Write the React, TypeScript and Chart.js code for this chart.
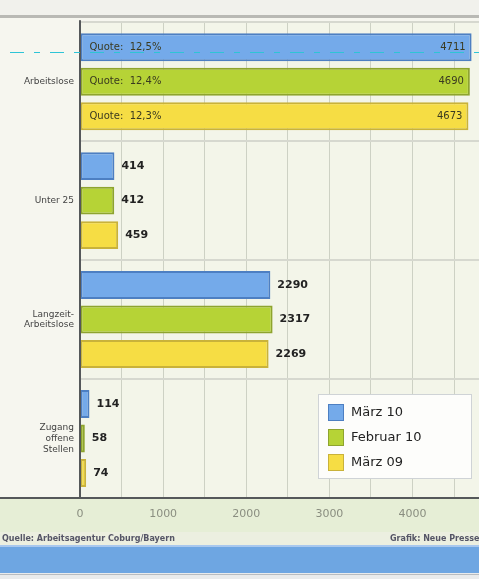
import React, { useEffect, useRef } from "react";
import { Chart, registerables } from "chart.js";

Chart.register(...registerables);

const categories: (string | string[])[] = [
  "Arbeitslose",
  "Unter 25",
  ["Langzeit-", "Arbeitslose"],
  ["Zugang", "offene", "Stellen"],
];
const seriesNames = ["März 10", "Februar 10", "März 09"];
const maerz10 = [4711, 414, 2290, 114];
const februar10 = [4690, 412, 2317, 58];
const maerz09 = [4673, 459, 2269, 74];
const quoten = ["12,5%", "12,4%", "12,3%"];
const xTickValues = [0, 1000, 2000, 3000, 4000];
const sourceLeft = "Quelle: Arbeitsagentur Coburg/Bayern";
const sourceRight = "Grafik: Neue Presse";

const fills = ["#74aaea", "#b6d336", "#f6dd44"];
const borders = ["#4d7fc2", "#8ea42e", "#c9b23a"];

const decorPlugin = {
  id: "decor",
  beforeDraw(chart: any) {
    const { ctx, chartArea: a, width, height } = chart;
    ctx.save();
    ctx.fillStyle = "#f6f6ef";
    ctx.fillRect(0, 0, width, height);
    // top strip
    ctx.fillStyle = "#f1f1ec";
    ctx.fillRect(0, 0, width, 15);
    ctx.fillStyle = "#b9b9b4";
    ctx.fillRect(0, 15, width, 3);
    // plot bg
    ctx.fillStyle = "#f3f5e9";
    ctx.fillRect(a.left, a.top, a.right - a.left, a.bottom - a.top);
    // tick band
    ctx.fillStyle = "#e6eed6";
    ctx.fillRect(0, a.bottom, width, 34);
    // footer band
    ctx.fillStyle = "#ecefe0";
    ctx.fillRect(0, a.bottom + 34, width, 13);
    ctx.fillStyle = "#6ea6e2";
    ctx.fillRect(0, a.bottom + 47, width, 28);
    ctx.fillStyle = "#a9c8ee";
    ctx.fillRect(0, a.bottom + 47, width, 2);
    ctx.fillStyle = "#e9ebec";
    ctx.fillRect(0, a.bottom + 75, width, height - a.bottom - 75);
    ctx.fillStyle = "#b8bcc0";
    ctx.fillRect(0, a.bottom + 76, width, 1);
    // footer text
    ctx.fillStyle = "#556";
    ctx.font = "bold 8px 'DejaVu Sans'";
    ctx.textBaseline = "middle";
    ctx.textAlign = "left";
    ctx.fillText(sourceLeft, 2, a.bottom + 41);
    ctx.fillText(sourceRight, 390, a.bottom + 41);
    ctx.restore();
  },
  afterDatasetsDraw(chart: any) {
    const { ctx, chartArea: a } = chart;
    ctx.save();
    ctx.textBaseline = "middle";
    chart.data.datasets.forEach((ds: any, di: number) => {
      const meta = chart.getDatasetMeta(di);
      meta.data.forEach((bar: any, i: number) => {
        const v = ds.data[i];
        if (i === 0) {
          ctx.font = "10px 'DejaVu Sans'";
          ctx.fillStyle = "#3a3a20";
          ctx.textAlign = "left";
          ctx.fillText("Quote:  " + quoten[di], bar.base + 9, bar.y);
          ctx.textAlign = "right";
          ctx.fillText(String(v), Math.min(bar.x, a.right) - 6, bar.y);
        } else {
          ctx.font = "bold 11px 'DejaVu Sans'";
          ctx.fillStyle = "#222";
          ctx.textAlign = "left";
          ctx.fillText(String(v), bar.x + 7, bar.y);
        }
      });
    });
    // axis lines
    ctx.fillStyle = "#55585a";
    ctx.fillRect(a.left - 1, a.top - 2, 2, a.bottom - a.top + 2);
    ctx.fillRect(0, a.bottom - 1, chart.width, 2);
    // dashed cyan line
    ctx.strokeStyle = "#2ec4d6";
    ctx.lineWidth = 1;
    ctx.setLineDash([14, 10, 6, 10]);
    ctx.beginPath();
    ctx.moveTo(10, 52.5);
    ctx.lineTo(chart.width, 52.5);
    ctx.stroke();
    ctx.setLineDash([]);
    // legend
    const lx = 318, ly = 394, lw = 153, lh = 84;
    ctx.fillStyle = "#fdfdfb";
    ctx.fillRect(lx, ly, lw, lh);
    ctx.strokeStyle = "#cfd3d6";
    ctx.strokeRect(lx + 0.5, ly + 0.5, lw, lh);
    chart.data.datasets.forEach((ds: any, di: number) => {
      const y = ly + 10 + di * 25;
      ctx.fillStyle = fills[di];
      ctx.fillRect(lx + 10, y, 16, 17);
      ctx.strokeStyle = borders[di];
      ctx.strokeRect(lx + 10.5, y + 0.5, 15, 16);
      ctx.fillStyle = "#222";
      ctx.font = "13px 'DejaVu Sans'";
      ctx.textAlign = "left";
      ctx.fillText(ds.label, lx + 33, y + 9);
    });
    ctx.restore();
  },
};

export default function App() {
  const ref = useRef<HTMLCanvasElement>(null);
  useEffect(() => {
    document.body.style.margin = "0";
    const data = [maerz10, februar10, maerz09];
    const chart = new Chart(ref.current as HTMLCanvasElement, {
      type: "bar",
      data: {
        labels: categories,
        datasets: seriesNames.map((n, i) => ({
          label: n,
          data: data[i],
          backgroundColor: fills[i],
          borderColor: borders[i],
          borderWidth: 2,
          borderSkipped: false,
          barPercentage: 0.81,
          categoryPercentage: 0.87,
        })),
      },
      options: {
        indexAxis: "y",
        animation: false,
        responsive: false,
        layout: { padding: { top: 21, right: 0, bottom: 47, left: 0 } },
        plugins: { legend: { display: false }, tooltip: { enabled: false } },
        scales: {
          x: {
            min: 0,
            max: 4800,
            afterFit: (s: any) => {
              s.height = 34;
            },
            afterBuildTicks: (s: any) => {
              const t: any[] = [];
              for (let v = 0; v <= 4500; v += 500) t.push({ value: v });
              s.ticks = t;
            },
            ticks: {
              autoSkip: false,
              callback: (v: any) => (xTickValues.includes(Number(v)) ? String(v) : ""),
              color: "#8a8e80",
              font: { size: 11, family: "'DejaVu Sans'" },
              padding: 10,
            },
            grid: { color: "#cdd1c4", lineWidth: 1, drawTicks: false },
            border: { display: false },
          },
          y: {
            afterFit: (s: any) => {
              s.width = 80;
            },
            ticks: {
              color: "#444",
              font: { size: 9, family: "'DejaVu Sans'" },
              padding: 6,
            },
            grid: { color: "#d6d8cf", lineWidth: 2, offset: true, drawTicks: false },
            border: { display: false },
          },
        },
      },
      plugins: [decorPlugin],
    } as any);
    return () => chart.destroy();
  }, []);
  return (
    <div style={{ position: "absolute", left: 0, top: 0, width: 479, height: 579 }}>
      <canvas ref={ref} width={479} height={579} style={{ width: 479, height: 579 }} />
    </div>
  );
}
